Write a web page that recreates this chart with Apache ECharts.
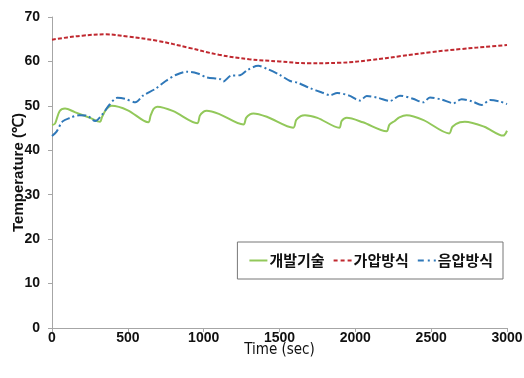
<!DOCTYPE html>
<html>
<head>
  <meta charset="UTF-8">
  <title>Temperature</title>
  <script src="https://cdn.jsdelivr.net/npm/echarts@6/dist/echarts.min.js"></script>
</head>
<body style="margin:0">
  <div id="chart" style="width:524px; height:378px;"></div>
  <script>
    // [time (sec), temperature (C)]
    var devTech = [
      [0, 45.7], [20, 46.0], [50, 48.8], [86, 49.4], [150, 48.6], [250, 47.3], [316, 46.4],
      [330, 47.5], [360, 49.3], [393, 50.0], [500, 49.0], [635, 46.3],
      [650, 47.8], [670, 49.3], [694, 49.8], [800, 48.8], [958, 46.1],
      [975, 47.8], [1000, 48.7], [1020, 48.9], [1100, 48.2], [1262, 45.8],
      [1280, 47.3], [1305, 48.1], [1328, 48.3], [1420, 47.5], [1591, 45.1],
      [1610, 46.8], [1640, 47.7], [1668, 47.9], [1750, 47.3], [1894, 45.1],
      [1910, 46.6], [1943, 47.3], [2050, 46.3], [2206, 44.3],
      [2225, 45.8], [2260, 46.6], [2290, 47.4], [2338, 47.9], [2450, 46.8], [2619, 43.8],
      [2640, 45.3], [2690, 46.3], [2722, 46.4], [2850, 45.3], [2975, 43.3], [3000, 44.4]
    ];
    var pressurized = [
      [0, 64.9], [100, 65.4], [200, 65.8], [350, 66.1], [500, 65.6], [700, 64.6], [900, 63.1],
      [1100, 61.5], [1300, 60.5], [1500, 60.0], [1700, 59.6], [1900, 59.7], [2100, 60.3],
      [2300, 61.2], [2500, 62.1], [2700, 62.8], [2900, 63.4], [3000, 63.7]
    ];
    var negative = [
      [0, 43.2], [30, 44.2], [70, 46.5], [120, 47.3], [180, 47.9], [230, 47.8], [285, 46.6],
      [330, 48.0], [380, 50.3], [430, 51.8], [480, 51.6], [550, 50.8], [600, 52.3], [680, 53.8],
      [750, 55.6], [820, 57.0], [890, 57.7], [960, 57.3], [1020, 56.4], [1110, 56.0], [1130, 55.5],
      [1180, 56.8], [1240, 56.9], [1290, 58.1], [1360, 59.0], [1420, 58.3], [1500, 57.0],
      [1570, 55.6], [1620, 55.2], [1700, 54.0], [1780, 53.0], [1833, 52.4], [1880, 52.9],
      [1960, 52.3], [2030, 51.2], [2075, 52.2], [2150, 51.8], [2228, 51.1], [2294, 52.3],
      [2380, 51.6], [2448, 50.8], [2492, 51.9], [2570, 51.4], [2646, 50.6], [2701, 51.5],
      [2770, 51.0], [2833, 50.2], [2888, 51.3], [2950, 51.0], [3000, 50.4]
    ];
    var seriesNames = ['개발기술', '가압방식', '음압방식'];

    var chart = echarts.init(document.getElementById('chart'), null, {renderer: 'canvas'});
    var axisColor = '#a6a6a6';
    var labelFont = {color: '#111', fontWeight: 'bold', fontSize: 14, fontFamily: 'Liberation Sans, Arial'};

    // legend swatches mimic the line dash patterns
    var icons = [
      'path://M0,0H18V2H0Z',
      'path://M0,0H4V2H0Z M7,0H11V2H7Z M14,0H18V2H14Z',
      'path://M0,0H6V2H0Z M10,0H12V2H10Z M16,0H18V2H16Z'
    ];

    chart.setOption({
      animation: false,
      backgroundColor: '#fff',
      grid: {left: 52, right: 17, top: 17, bottom: 50, outerBoundsMode: 'none'},
      legend: {
        data: seriesNames.map(function (n, i) { return {name: n, icon: icons[i]}; }),
        right: 21, top: 242,
        padding: [11, 10, 11, 12],
        itemGap: 9,
        itemWidth: 18,
        itemHeight: 2,
        borderColor: '#777',
        borderWidth: 1,
        textStyle: {color: '#111', fontWeight: 'bold', fontSize: 15, padding: [0, 0, 0, -3], fontFamily: 'Noto Sans CJK KR'}
      },
      xAxis: {
        type: 'value', min: 0, max: 3000, interval: 500,
        name: 'Time (sec)', nameLocation: 'middle', nameGap: 15, nameMoveOverlap: false,
        nameTextStyle: {color: '#111', fontSize: 15, fontFamily: 'DejaVu Sans Condensed, Liberation Sans'},
        axisLine: {show: true, lineStyle: {color: axisColor}},
        axisTick: {show: true, length: 4, lineStyle: {color: axisColor}},
        axisLabel: Object.assign({margin: 3, formatter: function (v) { return String(v); }}, labelFont),
        splitLine: {show: false}
      },
      yAxis: {
        type: 'value', min: 0, max: 70, interval: 10,
        name: 'Temperature (℃)', nameLocation: 'middle', nameGap: 26, nameMoveOverlap: false,
        nameTextStyle: {color: '#111', fontWeight: 'bold', fontSize: 15, fontFamily: 'Liberation Sans, Arial'},
        axisLine: {show: true, lineStyle: {color: axisColor}},
        axisTick: {show: true, length: 4, lineStyle: {color: axisColor}},
        axisLabel: Object.assign({margin: 12}, labelFont),
        splitLine: {show: false}
      },
      series: [
        {
          name: seriesNames[0], type: 'line', data: devTech, symbol: 'none', smooth: 0.3,
          itemStyle: {color: '#92c85a'},
          lineStyle: {color: '#92c85a', width: 2}
        },
        {
          name: seriesNames[1], type: 'line', data: pressurized, symbol: 'none', smooth: 0.4,
          itemStyle: {color: '#c0282f'},
          lineStyle: {color: '#c0282f', width: 2, type: [4, 2]}
        },
        {
          name: seriesNames[2], type: 'line', data: negative, symbol: 'none', smooth: 0.3,
          itemStyle: {color: '#2f78b9'},
          lineStyle: {color: '#2f78b9', width: 2, type: [9, 3, 2, 3]}
        }
      ]
    });
  </script>
</body>
</html>
